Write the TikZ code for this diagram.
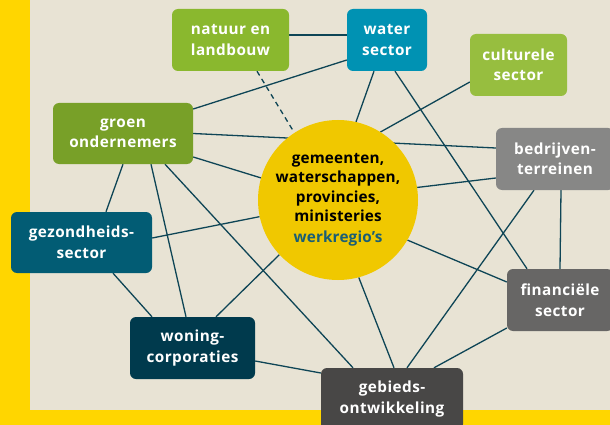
\documentclass[tikz,border=0pt]{standalone}
\usepackage{fontspec}
\setmainfont[LetterSpace=3]{Open Sans}
\newfontfamily\circfont[LetterSpace=1]{Open Sans}
\pgfdeclarelayer{bg}
\pgfdeclarelayer{lines}
\pgfsetlayers{bg,lines,main}
\definecolor{frameyel}{HTML}{FFD600}
\definecolor{beige}{HTML}{E8E3D4}
\definecolor{linec}{HTML}{0E4556}
\definecolor{cnatuur}{HTML}{8AB82E}
\definecolor{cwater}{HTML}{0092B3}
\definecolor{ccult}{HTML}{97BE3F}
\definecolor{cgroen}{HTML}{78A028}
\definecolor{cbedr}{HTML}{878786}
\definecolor{cgez}{HTML}{025C74}
\definecolor{cfin}{HTML}{676665}
\definecolor{cwon}{HTML}{003A4D}
\definecolor{cgeb}{HTML}{484746}
\definecolor{ccirc}{HTML}{F0C800}
\definecolor{cwerk}{HTML}{1A5E75}
\tikzset{
  box/.style={rounded corners=6pt, inner sep=0pt, text=white, align=center,
    font=\bfseries\fontsize{15.3}{20.5}\selectfont, minimum height=62pt},
  link/.style={draw=linec, line width=1.3pt},
}
\begin{document}
\begin{tikzpicture}[x=1pt,y=-1pt]
\useasboundingbox (0,0) rectangle (610,425);
\begin{pgfonlayer}{bg}
\fill[frameyel] (0,0) rectangle (610,425);
\fill[beige] (30,0) rectangle (610,410);
\end{pgfonlayer}

\node[circle, fill=ccirc, minimum size=160pt, inner sep=0pt, align=center,
  font=\circfont\bfseries\fontsize{15.3}{19.5}\selectfont] (center) at (338,200)
  {gemeenten,\\waterschappen,\\provincies,\\ministeries\\[1.5pt]{\color{cwerk}werkregio’s}};

\node[box, fill=cnatuur, minimum width=117pt] (natuur) at (230.5,40) {natuur en\\landbouw};
\node[box, fill=cwater, minimum width=80pt] (water) at (387,40) {water\\sector};
\node[box, fill=ccult, minimum width=97pt] (cult) at (518.5,65) {culturele\\sector};
\node[box, fill=cgroen, minimum width=140pt, minimum height=61pt] (groen) at (123,133.5) {groen\\ondernemers};
\node[box, fill=cbedr, minimum width=118pt] (bedr) at (555,159) {bedrijven-\\terreinen};
\node[box, fill=cgez, minimum width=141pt, minimum height=61pt] (gez) at (81.5,242.5) {gezondheids-\\sector};
\node[box, fill=cfin, minimum width=106pt] (fin) at (560,300) {financiële\\sector};
\node[box, fill=cwon, minimum width=125pt] (won) at (192.5,348) {woning-\\corporaties};
\node[box, fill=cgeb, minimum width=142pt] (geb) at (392,399) {gebieds-\\ontwikkeling};

\begin{pgfonlayer}{lines}
\draw[link] ([yshift=5pt]natuur.east) -- ([yshift=5pt]water.west);
\draw[link, dashed, dash pattern=on 5pt off 4pt] ([xshift=26.5pt]natuur.south) -- (center.123);
\draw[link] ([yshift=-20pt]water.west) -- ([yshift=24.5pt]groen.east);
\draw[link] ([xshift=-13pt]water.south) -- (center.77);
\draw[link] ([xshift=8pt]water.south) -- ([xshift=-33pt]fin.north);
\draw[link] ([yshift=-17pt]cult.west) -- (center.58);
\draw[link] (groen.east) -- ([yshift=11pt]bedr.west);
\draw[link] ([yshift=-23.5pt]groen.east) -- (center.164);
\draw[link] (groen.south) -- ([xshift=24.5pt]gez.north);
\draw[link] ([xshift=28pt]groen.south) -- ([xshift=-6.5pt]won.north);
\draw[link] ([xshift=42pt]groen.south) -- ([xshift=-39pt]geb.north);
\draw[link] ([yshift=4.5pt]gez.east) -- (center.192);
\draw[link] ([xshift=31.5pt]gez.south) -- ([xshift=-40.5pt]won.north);
\draw[link] ([xshift=23.5pt]won.north) -- (center.223);
\draw[link] ([yshift=-13pt]won.east) -- ([yshift=26pt]geb.west);
\draw[link] (center.9) -- ([yshift=-19pt]bedr.west);
\draw[link] (center.330) -- ([yshift=18pt]fin.west);
\draw[link] (center.285) -- ([xshift=2pt]geb.north);
\draw[link] ([xshift=-21pt]bedr.south) -- ([xshift=15pt]geb.north);
\draw[link] ([xshift=6pt]bedr.south) -- (fin.north);
\draw[link] ([yshift=-28pt]fin.west) -- ([xshift=42pt]geb.north);
\end{pgfonlayer}
\end{tikzpicture}
\end{document}
